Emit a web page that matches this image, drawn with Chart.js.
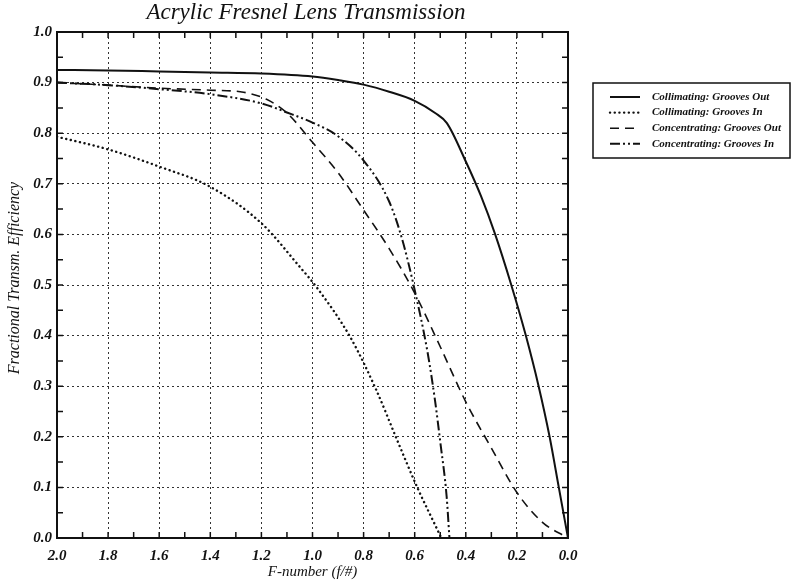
<!DOCTYPE html>
<html>
<head>
<meta charset="utf-8">
<script src="https://cdn.jsdelivr.net/npm/chart.js@4/dist/chart.umd.min.js"></script>
<style>
  body { margin: 0; background: #fff; }
  #lens-chart { display: block; }
</style>
</head>
<body>
<canvas id="lens-chart" width="795" height="580"></canvas>
<script>
// Transmission curves, F-number (x) against efficiency (y)
const collOutF = [2.0, 1.8, 1.6, 1.4, 1.2, 1.0, 0.9, 0.8, 0.7, 0.6, 0.52, 0.474, 0.4, 0.34, 0.285, 0.222, 0.165, 0.115, 0.072, 0.036, 0.0];
const collOutEff = [0.925, 0.924, 0.922, 0.920, 0.918, 0.912, 0.905, 0.896, 0.882, 0.864, 0.840, 0.820, 0.744, 0.675, 0.600, 0.500, 0.400, 0.300, 0.200, 0.100, 0.0];

const collInF = [2.0, 1.8, 1.6, 1.4, 1.2, 1.05, 0.98, 0.85, 0.75, 0.67, 0.59, 0.51, 0.496];
const collInEff = [0.793, 0.768, 0.734, 0.694, 0.622, 0.536, 0.493, 0.395, 0.292, 0.195, 0.100, 0.015, 0.0];

const concOutF = [2.0, 1.8, 1.6, 1.4, 1.27, 1.18, 1.1, 1.0, 0.9, 0.8, 0.7, 0.6, 0.5, 0.4, 0.3, 0.2, 0.1, 0.0];
const concOutEff = [0.900, 0.895, 0.889, 0.885, 0.881, 0.867, 0.840, 0.782, 0.722, 0.648, 0.572, 0.484, 0.378, 0.269, 0.178, 0.090, 0.031, 0.0];

const concInF = [2.0, 1.8, 1.6, 1.4, 1.2, 1.1, 1.0, 0.9, 0.8, 0.7, 0.65, 0.6, 0.55, 0.52, 0.5, 0.475, 0.464];
const concInEff = [0.900, 0.895, 0.887, 0.877, 0.859, 0.841, 0.821, 0.794, 0.746, 0.665, 0.592, 0.490, 0.368, 0.270, 0.190, 0.082, 0.0];

const seriesNames = ['Collimating: Grooves Out', 'Collimating: Grooves In', 'Concentrating: Grooves Out', 'Concentrating: Grooves In'];
const chartTitle = 'Acrylic Fresnel Lens Transmission';
const xTitle = 'F-number (f/#)';
const yTitle = 'Fractional Transm. Efficiency';

const SERIF = "'Liberation Serif', 'DejaVu Serif', serif";

function toPoints(xs, ys) {
    return xs.map((v, i) => ({ x: v, y: ys[i] }));
}

// line styles, shared by the curves and the legend samples
const styles = [
    { dash: [], cap: 'butt', width: 2 },
    { dash: [0.1, 4.6], cap: 'round', width: 2.4 },
    { dash: [9, 6], cap: 'butt', width: 1.6 },
    { dash: [10, 3, 2, 3, 2, 3], cap: 'butt', width: 2 }
];

const seriesData = [
    toPoints(collOutF, collOutEff),
    toPoints(collInF, collInEff),
    toPoints(concOutF, concOutEff),
    toPoints(concInF, concInEff)
];

// frame, inward minor ticks, title, axis titles and boxed legend
const decorations = {
    id: 'decorations',
    afterDraw(chart) {
        const { ctx, chartArea: a, scales: { x, y } } = chart;
        ctx.save();

        ctx.strokeStyle = '#111';
        ctx.lineWidth = 1.5;
        ctx.setLineDash([]);
        ctx.beginPath();
        for (let i = 1; i < 20; i++) {
            const px = x.getPixelForValue(i / 10);
            ctx.moveTo(px, a.bottom); ctx.lineTo(px, a.bottom - 6);
            ctx.moveTo(px, a.top); ctx.lineTo(px, a.top + 6);
            const py = y.getPixelForValue(i / 20);
            ctx.moveTo(a.left, py); ctx.lineTo(a.left + 6, py);
            ctx.moveTo(a.right, py); ctx.lineTo(a.right - 6, py);
        }
        ctx.stroke();

        ctx.lineWidth = 2;
        ctx.strokeRect(a.left, a.top, a.right - a.left, a.bottom - a.top);

        ctx.fillStyle = '#111';
        ctx.textAlign = 'center';
        ctx.textBaseline = 'middle';
        ctx.font = 'italic 23px ' + SERIF;
        ctx.fillText(chartTitle, 306, 13);

        ctx.font = 'italic 15px ' + SERIF;
        ctx.fillText(xTitle, (a.left + a.right) / 2, 572);

        ctx.save();
        ctx.translate(15, 278);
        ctx.rotate(-Math.PI / 2);
        ctx.font = 'italic 16px ' + SERIF;
        ctx.fillText(yTitle, 0, 0);
        ctx.restore();

        // legend
        ctx.lineWidth = 1.5;
        ctx.strokeRect(593, 83, 197, 75);
        ctx.font = 'italic bold 11px ' + SERIF;
        ctx.textAlign = 'left';
        seriesNames.forEach((name, i) => {
            const ly = 97 + i * 15.6;
            const s = styles[i];
            ctx.beginPath();
            ctx.setLineDash(s.dash);
            ctx.lineCap = s.cap;
            ctx.lineWidth = s.width;
            ctx.moveTo(610, ly);
            ctx.lineTo(640, ly);
            ctx.stroke();
            ctx.setLineDash([]);
            ctx.lineCap = 'butt';
            ctx.fillText(name, 652, ly);
        });

        ctx.restore();
    }
};

const ctx = document.getElementById('lens-chart').getContext('2d');
const chart = new Chart(ctx, {
    type: 'line',
    data: {
        datasets: seriesData.map((pts, i) => ({
            label: seriesNames[i],
            data: pts,
            borderColor: '#111',
            borderWidth: styles[i].width,
            borderDash: styles[i].dash,
            borderCapStyle: styles[i].cap,
            pointRadius: 0,
            fill: false,
            cubicInterpolationMode: 'monotone'
        }))
    },
    options: {
        responsive: false,
        animation: false,
        devicePixelRatio: 1,
        layout: { padding: { top: 32, right: 227, left: 0, bottom: 0 } },
        plugins: {
            legend: { display: false },
            title: { display: false },
            tooltip: { enabled: false }
        },
        scales: {
            x: {
                type: 'linear',
                min: 0,
                max: 2,
                reverse: true,
                afterFit(scale) { scale.height = 42; },
                grid: { color: '#333', lineWidth: 1, drawTicks: false },
                border: { display: false, dash: [2, 3] },
                ticks: {
                    stepSize: 0.2,
                    autoSkip: false,
                    maxRotation: 0,
                    padding: 9,
                    color: '#111',
                    font: { family: SERIF, size: 15, style: 'italic', weight: 'bold' },
                    callback: v => v.toFixed(1)
                }
            },
            y: {
                min: 0,
                max: 1,
                afterFit(scale) { scale.width = 57; },
                grid: { color: '#333', lineWidth: 1, drawTicks: false },
                border: { display: false, dash: [2, 3] },
                ticks: {
                    stepSize: 0.1,
                    padding: 5,
                    color: '#111',
                    font: { family: SERIF, size: 15, style: 'italic', weight: 'bold' },
                    callback: v => v.toFixed(1)
                }
            }
        }
    },
    plugins: [decorations]
});
</script>
</body>
</html>
